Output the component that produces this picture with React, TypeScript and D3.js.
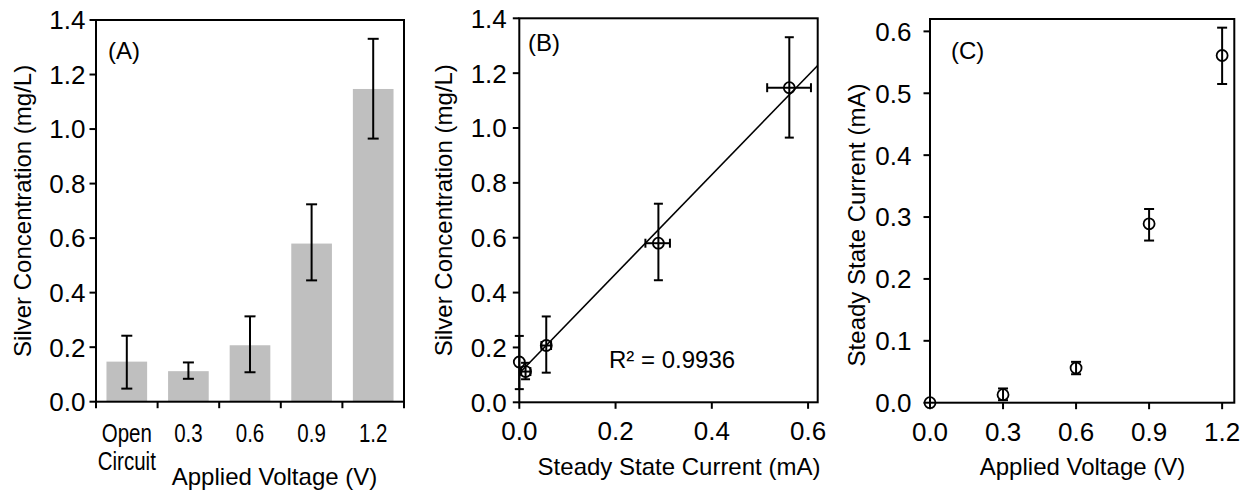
import React from "react";
import * as d3 from "d3";

// ---------- Data ----------
const voltageLabels = ["Open Circuit", "0.3", "0.6", "0.9", "1.2"];
const silverConc = [0.147, 0.112, 0.207, 0.58, 1.147];
const silverErrLow = [0.048, 0.084, 0.108, 0.445, 0.965];
const silverErrHigh = [0.242, 0.144, 0.313, 0.724, 1.331];

const appliedVoltage = [0, 0.3, 0.6, 0.9, 1.2];
const steadyCurrent = [0, 0.013, 0.056, 0.289, 0.561];
const currentErrLow = [0, 0.004, 0.046, 0.262, 0.515];
const currentErrHigh = [0, 0.023, 0.066, 0.313, 0.606];

const silverTicks = [0, 0.2, 0.4, 0.6, 0.8, 1.0, 1.2, 1.4];
const currentTicksB = [0, 0.2, 0.4, 0.6];
const currentTicksC = [0, 0.1, 0.2, 0.3, 0.4, 0.5, 0.6];
const voltageTicksC = [0, 0.3, 0.6, 0.9, 1.2];
const r2Label = "R² = 0.9936";

const FONT = "'Liberation Sans', Arial, sans-serif";
const FS = 24;
const TFS = 26;
const AX = 2;
const TICK = 6.5;

function YAxis({ scale, ticks, x, labelGap, fmt }: any) {
  return (
    <g>
      {ticks.map((t: number) => (
        <g key={t}>
          <line x1={x - TICK} x2={x} y1={scale(t)} y2={scale(t)} stroke="#000" strokeWidth={AX} />
          <text x={x - TICK - labelGap} y={scale(t)} dy="0.36em" textAnchor="end" fontSize={TFS} fontFamily={FONT}>
            {fmt(t)}
          </text>
        </g>
      ))}
    </g>
  );
}

function Frame({ l, r, t, b }: any) {
  return <rect x={l} y={t} width={r - l} height={b - t} fill="none" stroke="#000" strokeWidth={AX} />;
}

function ErrV({ x, y1, y2, cap }: any) {
  return (
    <g stroke="#000" strokeWidth={2}>
      <line x1={x} x2={x} y1={y1} y2={y2} />
      <line x1={x - cap} x2={x + cap} y1={y1} y2={y1} />
      <line x1={x - cap} x2={x + cap} y1={y2} y2={y2} />
    </g>
  );
}
function ErrH({ y, x1, x2, cap }: any) {
  return (
    <g stroke="#000" strokeWidth={2}>
      <line x1={x1} x2={x2} y1={y} y2={y} />
      <line x1={x1} x2={x1} y1={y - cap} y2={y + cap} />
      <line x1={x2} x2={x2} y1={y - cap} y2={y + cap} />
    </g>
  );
}

function PanelA() {
  const l = 96, r = 404, t = 20, b = 401.7;
  const x = d3.scaleBand<string>().domain(voltageLabels).range([l, r]).paddingInner(0.34).paddingOuter(0.17);
  const y = d3.scaleLinear().domain([0, 1.4]).range([b, t]);
  const fmt = d3.format(".1f");
  return (
    <g>
      {voltageLabels.map((c, i) => (
        <rect key={c} x={x(c)!} y={y(silverConc[i])} width={x.bandwidth()} height={b - y(silverConc[i])} fill="#bfbfbf" />
      ))}
      {voltageLabels.map((c, i) => (
        <ErrV key={c} x={x(c)! + x.bandwidth() / 2} y1={y(silverErrHigh[i])} y2={y(silverErrLow[i])} cap={5.5} />
      ))}
      <Frame l={l} r={r} t={t} b={b} />
      <YAxis scale={y} ticks={silverTicks} x={l} labelGap={4} fmt={fmt} />
      {d3.range(voltageLabels.length + 1).map((i) => {
        const px = l + (r - l) * (i / voltageLabels.length);
        return <line key={i} x1={px} x2={px} y1={b} y2={b + TICK} stroke="#000" strokeWidth={AX} />;
      })}
      {voltageLabels.map((c) => {
        const cx = x(c)! + x.bandwidth() / 2;
        const lines = c.split(" ");
        return (
          <text key={c} transform={`translate(${cx},0) scale(0.82,1)`} textAnchor="middle" fontSize={25} fontFamily={FONT}>
            {lines.map((ln, k) => (
              <tspan key={k} x={0} y={442 + k * 28}>{ln}</tspan>
            ))}
          </text>
        );
      })}
      <text x={274.5} y={485} textAnchor="middle" fontSize={FS} fontFamily={FONT}>Applied Voltage (V)</text>
      <text transform={`translate(31,${(t + b) / 2}) rotate(-90)`} textAnchor="middle" fontSize={FS} fontFamily={FONT}>
        Silver Concentration (mg/L)
      </text>
      <text x={108} y={59} fontSize={FS} fontFamily={FONT}>(A)</text>
    </g>
  );
}

function PanelB() {
  const l = 519.3, r = 817.7, t = 18.3, b = 402.3;
  const x = d3.scaleLinear().domain([0, 0.62]).range([l, r]);
  const y = d3.scaleLinear().domain([0, 1.4]).range([b, t]);
  const fmt = d3.format(".1f");
  // linear trendline fitted to the data
  const mx = d3.mean(steadyCurrent)!;
  const my = d3.mean(silverConc)!;
  const sxy = d3.sum(steadyCurrent.map((v, i) => (v - mx) * (silverConc[i] - my)));
  const sxx = d3.sum(steadyCurrent.map((v) => (v - mx) ** 2));
  const slope = sxy / sxx;
  const icpt = my - slope * mx;
  const trend = d3.line<number>().x((v) => x(v)).y((v) => y(icpt + slope * v));
  return (
    <g>
      <path d={trend([0, 0.62])!} stroke="#000" strokeWidth={1.6} fill="none" />
      {steadyCurrent.map((cv, i) => (
        <g key={i}>
          <ErrV x={x(cv)} y1={y(silverErrHigh[i])} y2={y(silverErrLow[i])} cap={4.5} />
          {currentErrHigh[i] > currentErrLow[i] && (
            <ErrH y={y(silverConc[i])} x1={x(currentErrLow[i])} x2={x(currentErrHigh[i])} cap={4.5} />
          )}
          <circle cx={x(cv)} cy={y(silverConc[i])} r={5.5} fill="none" stroke="#000" strokeWidth={1.8} />
        </g>
      ))}
      <Frame l={l} r={r} t={t} b={b} />
      <YAxis scale={y} ticks={silverTicks} x={l} labelGap={6} fmt={fmt} />
      {currentTicksB.map((v) => (
        <g key={v}>
          <line x1={x(v)} x2={x(v)} y1={b} y2={b + TICK} stroke="#000" strokeWidth={AX} />
          <text x={x(v)} y={440} textAnchor="middle" fontSize={TFS} fontFamily={FONT}>{fmt(v)}</text>
        </g>
      ))}
      <text x={679} y={475} textAnchor="middle" fontSize={FS} fontFamily={FONT}>Steady State Current (mA)</text>
      <text transform={`translate(452,${(t + b) / 2}) rotate(-90)`} textAnchor="middle" fontSize={FS} fontFamily={FONT}>
        Silver Concentration (mg/L)
      </text>
      <text x={528} y={51} fontSize={FS} fontFamily={FONT}>(B)</text>
      <text x={609} y={368} fontSize={FS} fontFamily={FONT}>{r2Label}</text>
    </g>
  );
}

function PanelC() {
  const l = 930, r = 1234.3, t = 19, b = 402.7;
  const x = d3.scaleLinear().domain([0, 1.25]).range([l, r]);
  const y = d3.scaleLinear().domain([0, 0.62]).range([b, t]);
  const fmt = d3.format(".1f");
  return (
    <g>
      {appliedVoltage.map((v, i) => (
        <g key={i}>
          {currentErrHigh[i] > currentErrLow[i] && (
            <ErrV x={x(v)} y1={y(currentErrHigh[i])} y2={y(currentErrLow[i])} cap={5} />
          )}
          <circle cx={x(v)} cy={y(steadyCurrent[i])} r={5.5} fill="none" stroke="#000" strokeWidth={1.8} />
        </g>
      ))}
      <Frame l={l} r={r} t={t} b={b} />
      <YAxis scale={y} ticks={currentTicksC} x={l} labelGap={12} fmt={fmt} />
      {voltageTicksC.map((v) => (
        <g key={v}>
          <line x1={x(v)} x2={x(v)} y1={b} y2={b + TICK} stroke="#000" strokeWidth={AX} />
          <text x={x(v)} y={441} textAnchor="middle" fontSize={TFS} fontFamily={FONT}>{fmt(v)}</text>
        </g>
      ))}
      <text x={1082.5} y={475} textAnchor="middle" fontSize={FS} fontFamily={FONT}>Applied Voltage (V)</text>
      <text transform={`translate(865,225) rotate(-90)`} textAnchor="middle" fontSize={FS} fontFamily={FONT}>
        Steady State Current (mA)
      </text>
      <text x={951} y={59} fontSize={FS} fontFamily={FONT}>(C)</text>
    </g>
  );
}

export default function App() {
  return (
    <svg width={1249} height={493} style={{ position: "absolute", left: 0, top: 0, background: "#fff" }}>
      <rect x={0} y={0} width={1249} height={493} fill="#fff" />
      <PanelA />
      <PanelB />
      <PanelC />
    </svg>
  );
}
